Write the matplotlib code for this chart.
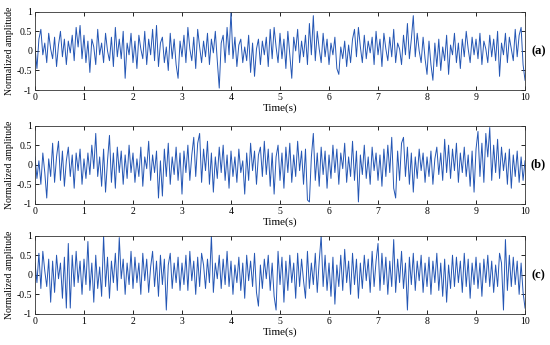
import numpy as np
import matplotlib
matplotlib.use("Agg")
import matplotlib.pyplot as plt
from matplotlib.ticker import FormatStrFormatter

# sample spacing of the hand-read signals (s)
dt = 0.04

sig_a = [
    0.1, -0.45, 0.3, 0.55, -0.1, 0.2, -0.3, 0.45, 0.05, -0.2, 0.35, -0.4, 0.15, 0.5, -0.15, 0.3, -0.35, 0.25, -0.05, 0.4, -0.25, 0.6, 0.1, 0.65, -0.2,
    0.4, -0.3, 0.25, -0.55, 0.3, 0.1, -0.35, 0.55, -0.1, 0.2, -0.3, 0.45, 0.0, -0.25, 0.35, -0.4, 0.6, -0.15, 0.3, -0.2, 0.5, -0.7, 0.2, -0.1, 0.45,
    -0.3, 0.25, -0.45, 0.4, 0.05, -0.2, 0.5, -0.35, 0.3, -0.1, 0.55, -0.25, 0.65, -0.4, 0.2, 0.35, -0.3, 0.1, -0.5, 0.45, -0.2, 0.3, -0.35, -0.7, 0.25,
    -0.15, 0.4, -0.3, 0.6, 0.05, -0.25, 0.35, -0.45, 0.55, 0.1, -0.3, 0.25, -0.15, 0.45, -0.35, 0.3, -0.05, 0.5, -0.25, -0.95, 0.2, 0.4, -0.3, 0.6, -0.1,
    1.0, -0.2, 0.35, -0.4, 0.15, 0.3, -0.3, 0.1, -0.25, 0.4, -0.55, 0.2, -0.65, 0.05, 0.3, -0.35, 0.25, -0.1, 0.35, -0.4, 0.55, -0.2, 0.6, 0.1, -0.3,
    0.45, -0.2, 0.3, -0.45, 0.5, -0.1, -0.7, 0.35, 0.0, 0.55, -0.3, 0.25, -0.15, 0.4, -0.35, 0.7, -0.1, 0.9, -0.25, 0.5, 0.05, -0.3, 0.45, -0.15, 0.3,
    -0.35, 0.2, -0.1, 0.35, -0.45, -0.6, 0.1, -0.2, 0.25, -0.4, 0.15, -0.3, 0.3, 0.55, -0.15, 0.6, 0.1, -0.3, 0.4, -0.2, 0.25, -0.05, 0.35, -0.35, 0.5,
    -0.1, 0.3, -0.4, 0.45, 0.05, -0.25, 0.35, -0.15, 0.55, -0.3, 0.2, 0.05, -0.35, 0.4, -0.1, 0.7, -0.2, 0.3, 0.9, -0.15, 0.45, 0.0, -0.3, 0.35, -0.2,
    -0.6, 0.25, -0.35, -0.75, 0.2, -0.4, 0.3, -0.5, 0.1, -0.25, 0.4, -0.6, 0.15, -0.1, 0.45, -0.3, 0.2, -0.45, 0.3, -0.15, 0.5, 0.05, -0.3, 0.35, -0.1,
    0.3, -0.2, 0.45, -0.35, 0.25, 0.05, -0.3, 0.4, -0.15, 0.3, -0.25, 0.5, -0.65, 0.2, -0.1, 0.45, -0.3, 0.35, 0.05, -0.25, 0.55, -0.15, 0.4, 0.6, -0.35,
    -0.75,
]

sig_b = [
    0.2, -0.35, 0.1, -0.5, 0.3, -0.2, -0.85, 0.15, -0.3, 0.55, -0.45, 0.2, 0.6, -0.4, 0.35, -0.55, 0.1, 0.45, -0.3, 0.25, -0.6, 0.3, -0.15, 0.4, -0.5,
    0.15, -0.35, 0.3, -0.25, 0.5, -0.1, 0.8, -0.3, 0.2, -0.55, 0.4, -0.7, 0.1, 0.75, -0.45, 0.3, -0.6, 0.45, -0.2, 0.35, -0.5, 0.25, -0.35, 0.5, -0.2,
    0.3, -0.45, 0.15, -0.3, 0.45, -0.55, 0.2, -0.1, 0.6, -0.4, 0.25, -0.2, 0.35, -0.85, 0.1, -0.8, 0.4, -0.3, 0.55, -0.5, 0.2, -0.25, 0.45, -0.4, 0.3,
    -0.75, 0.35, -0.2, 0.5, -0.4, 0.25, 0.7, -0.3, 0.55, 0.8, -0.45, 0.4, -0.15, 0.6, -0.5, 0.3, -0.7, 0.2, -0.35, 0.45, -0.2, 0.5, -0.4, 0.25, -0.6,
    0.35, -0.3, 0.2, -0.45, 0.4, -0.2, 0.1, -0.75, 0.3, -0.4, 0.55, -0.15, 0.35, -0.5, 0.25, 0.45, -0.3, 0.6, -0.25, 0.4, -0.55, 0.3, -0.75, 0.2, 0.5,
    -0.4, 0.3, -0.6, 0.45, -0.2, 0.55, -0.45, 0.25, -0.3, 0.6, -0.15, 0.35, -0.5, 0.4, -0.9, -0.95, 0.2, 0.8, -0.4, 0.3, -0.55, 0.45, -0.25, 0.35, -0.6,
    0.25, -0.35, 0.5, -0.2, 0.4, -0.5, 0.3, -0.1, 0.55, -0.45, 0.2, -0.3, 0.6, -0.4, 0.35, -0.95, 0.25, -0.25, 0.5, -0.35, 0.2, -0.5, 0.45, -0.15, 0.3,
    -0.4, 0.25, -0.55, 0.4, -0.3, 0.5, -0.2, 0.7, -0.6, -0.85, 0.35, -0.4, 0.55, 0.7, -0.3, 0.45, -0.5, 0.3, -0.7, 0.2, -0.35, 0.4, -0.15, 0.3, -0.45,
    0.2, -0.3, 0.35, -0.5, 0.15, 0.45, -0.25, 0.3, -0.4, 0.65, -0.2, 0.5, -0.35, 0.4, -0.15, 0.55, -0.45, 0.3, -0.2, 0.45, -0.3, 0.25, -0.55, 0.35, -0.7,
    0.4, 0.85, -0.3, 0.55, -0.45, 0.8, 0.2, 0.95, -0.4, 0.5, -0.2, 0.65, -0.35, 0.45, -0.15, 0.3, -0.5, 0.4, -0.6, 0.25, -0.3, 0.35, -0.45, 0.2, -0.4,
    0.1,
]

sig_c = [
    0.3, -0.2, 0.55, -0.35, 0.6, 0.1, -0.3, 0.4, -0.7, 0.35, -0.45, 0.5, -0.1, 0.3, -0.6, 0.45, -0.85, 0.8, -0.85, 0.5, -0.3, 0.6, -0.2, 0.35, -0.5,
    0.4, -0.25, 0.85, -0.4, 0.3, -0.7, 0.5, -0.35, 0.2, -0.55, 1.0, -0.3, 0.45, -0.6, 0.35, -0.2, 0.55, -0.4, 0.95, -0.1, 0.4, -0.5, 0.3, -0.25, 0.6,
    -0.35, 0.45, -0.2, 0.3, -0.5, 0.55, -0.15, 0.4, -0.45, 0.2, 0.6, -0.3, 0.35, -0.55, 0.5, -0.25, 0.4, -0.9, 0.25, 0.55, -0.35, 0.3, -0.2, 0.45, -0.4,
    0.3, -0.25, 0.5, -0.4, 0.6, -0.15, 0.35, -0.5, 0.45, -0.3, 0.55, 0.25, -0.35, 0.4, -0.2, 1.0, -0.45, 0.3, -0.1, 0.5, -0.35, 0.4, -0.25, 0.6, -0.3,
    0.35, -0.5, 0.25, -0.2, 0.45, -0.4, 0.3, -0.6, 0.5, -0.15, 0.35, -0.3, 0.55, -0.45, -0.8, 0.25, -0.35, 0.4, -0.1, 0.5, -0.4, 0.3, -0.55, -0.9, 0.6,
    -0.25, 0.45, -0.7, 0.35, -0.4, 0.5, -0.2, 0.3, -0.6, 0.55, -0.3, 0.4, -0.15, -0.6, 0.6, -0.35, 0.3, -0.25, 0.55, -0.45, 0.35, 1.0, -0.3, 0.5, -0.4,
    0.3, -0.55, 0.45, -0.75, 0.25, -0.3, 0.5, -0.4, 0.65, -0.2, 0.35, -0.5, 0.55, -0.25, 0.4, -0.6, 0.3, -0.35, 0.5, -0.15, 0.4, -0.45, 0.6, -0.3, 0.35,
    0.8, -0.4, 0.55, -0.25, 0.45, -0.5, 0.35, -0.3, 0.9, -0.45, 0.4, -0.2, 0.6, -0.35, 0.3, -0.9, 0.45, -0.25, 0.55, -0.4, 0.35, -0.15, 0.5, -0.45, 0.3,
    -0.3, 0.45, -0.5, 0.35, -0.2, 0.55, -0.4, 0.3, -0.55, 0.4, -0.7, 0.25, -0.35, 0.5, -0.3, 0.45, -0.2, 0.35, -0.45, 0.55, -0.3, 0.4, -0.6, 0.3, -0.25,
    0.45, -0.35, 0.3, -0.55, 0.4, -0.2, 0.5, -0.3, 0.35, -0.45, 0.25, -0.3, 0.55, 0.3, -0.9, 0.9, -0.4, 0.5, -0.3, 0.45, -0.25, 0.35, -0.5, 0.3, -0.45,
    -0.85,
]

signals = [sig_a, sig_b, sig_c]
panel_labels = ["(a)", "(b)", "(c)"]
xticks = list(range(0, 11))
yticks = [-1, -0.5, 0, 0.5, 1]

plt.rcParams['font.family'] = ['Liberation Serif', 'DejaVu Serif']

fig = plt.figure(figsize=(5.5, 3.45), dpi=100)
bottoms = [0.739, 0.409, 0.090]
line_color = '#2456b4'

for sig, lab, b in zip(signals, panel_labels, bottoms):
    ax = fig.add_axes([0.0636, b, 0.891, 0.227])
    t = np.arange(len(sig)) * dt
    ax.plot(t, sig, color=line_color, linewidth=0.7)
    ax.set_xlim(0, 10)
    ax.set_ylim(-1, 1)
    ax.set_xticks(xticks)
    ax.set_yticks(yticks)
    ax.yaxis.set_major_formatter(FormatStrFormatter('%g'))
    ax.tick_params(direction='in', top=True, right=True, labelsize=7,
                   length=3, width=0.6, pad=2)
    for s in ax.spines.values():
        s.set_linewidth(0.6)
        s.set_color('#333333')
    ax.set_ylabel('Normalized amplitude', fontsize=7, labelpad=2)
    ax.set_xlabel('Time(s)', fontsize=8, labelpad=1)
    ax.text(1.027, 0.5, lab, transform=ax.transAxes, fontsize=9,
            fontweight='bold', va='center', ha='center')

fig.savefig('out.png', dpi=100)
